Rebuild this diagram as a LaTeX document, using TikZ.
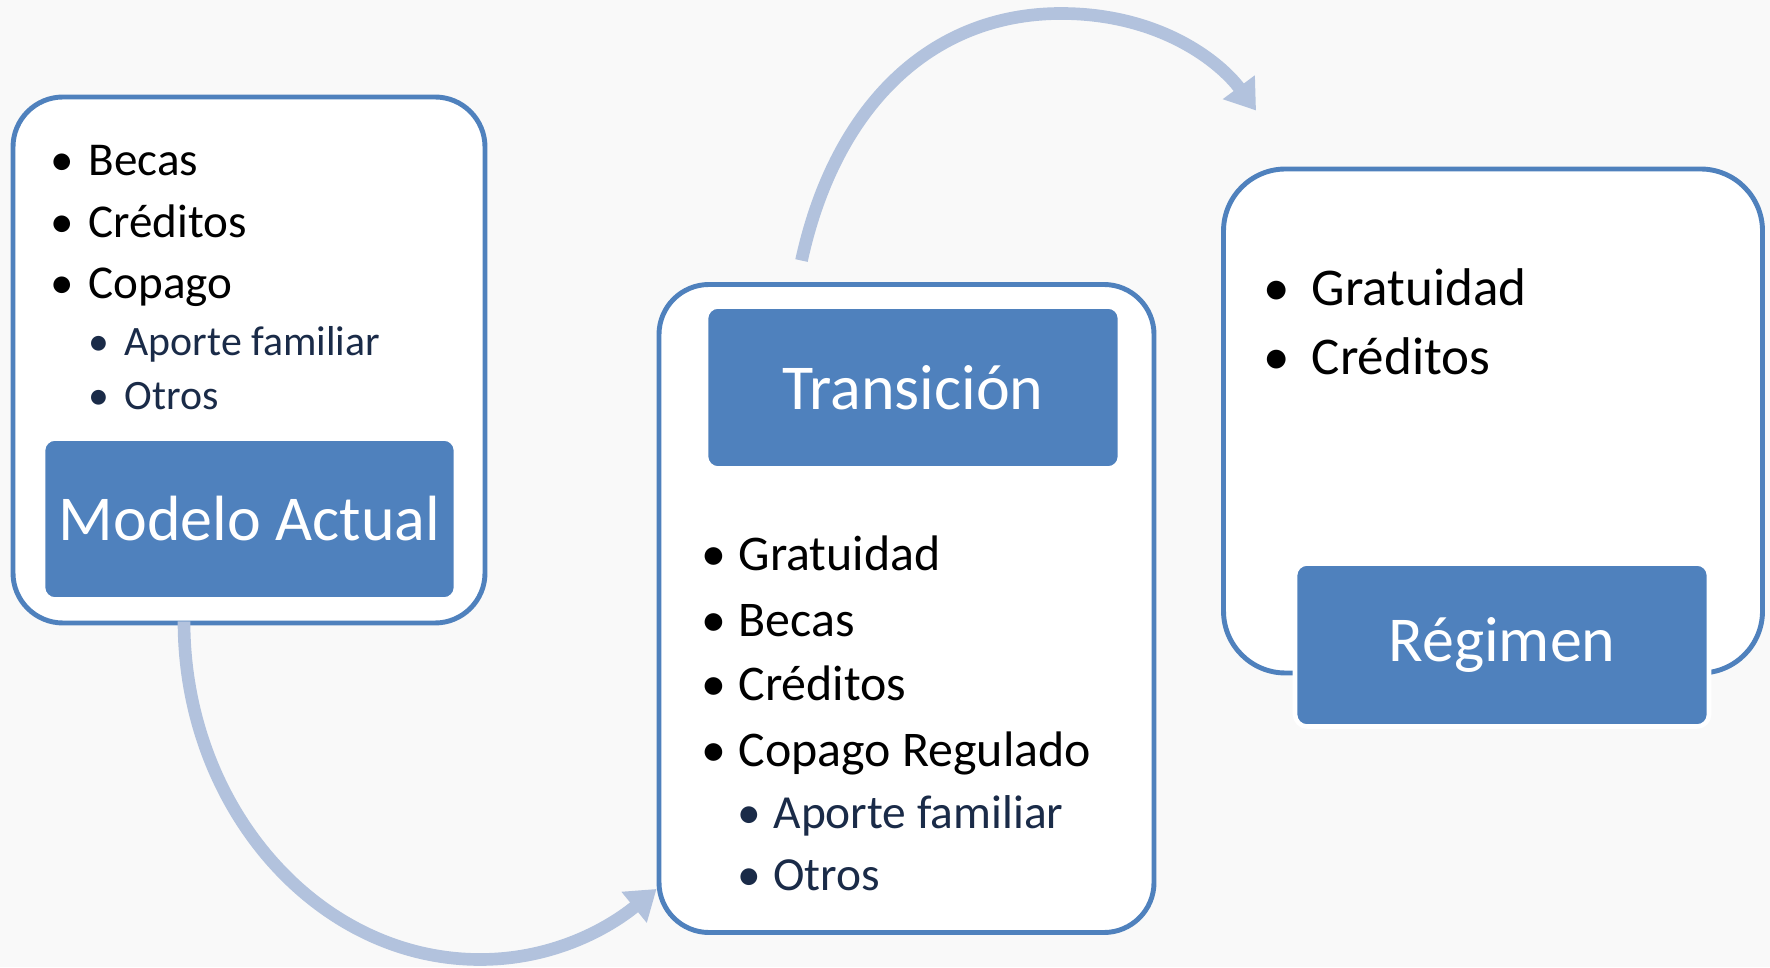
\documentclass[tikz,border=0pt]{standalone}
\usepackage{fontspec}
\setmainfont{Carlito}
\usepackage{tikz}
\usetikzlibrary{arrows.meta, positioning, calc}

\definecolor{boxblue}{HTML}{4F81BD}
\definecolor{flowblue}{HTML}{B2C2DD}
\definecolor{subnavy}{HTML}{1A2B48}
\definecolor{bggray}{HTML}{F9F9F9}

\begin{document}
\begin{tikzpicture}[line width=1.4pt]

  \tikzstyle{frame}=[draw=boxblue, fill=white, rounded corners=0.5cm]%
  \tikzstyle{title}=[draw=white, line width=1.3pt, fill=boxblue, text=white,
    rounded corners=0.12cm, font=\fontsize{18.2}{21}\selectfont]%
  \tikzstyle{flow}=[flowblue, line width=3.6pt,
    -{Triangle[width=0.38cm, length=0.29cm]}]%

  % background
  \fill[bggray] (0,0) rectangle (17.7,9.67);
  \useasboundingbox (0,0) rectangle (17.7,9.67);

  % Boxes
  \node[frame, minimum width=4.72cm, minimum height=5.26cm] (actualbox) at (2.49,6.07) {};
  \node[frame, minimum width=4.95cm, minimum height=6.48cm] (transbox) at (9.065,3.585) {};
  \node[frame, rounded corners=0.62cm, minimum width=5.39cm, minimum height=5.04cm]
    (regimenbox) at (14.93,5.46) {};

  % Titles
  \node[title, minimum width=4.13cm, minimum height=1.61cm] (actual) at (2.495,4.48) {Modelo Actual};
  \node[title, minimum width=4.14cm, minimum height=1.62cm] (trans) at (9.13,5.795) {Transición};
  \node[title, minimum width=4.14cm, minimum height=1.63cm] (regimen) at (15.02,3.22) {Régimen};

  %% Labels
  \begin{scope}[inner sep=0pt, anchor=base west]
    % modelo actual
    \begin{scope}[font=\fontsize{13.4}{16}\selectfont,
      execute at begin node={\llap{\textbullet\hspace{0.3em}}}]
      \node (a1) at (0.86,7.913) {Becas};
      \node (a2) at (0.86,7.292) {Créditos};
      \node (a3) at (0.86,6.683) {Copago};
    \end{scope}
    \begin{scope}[font=\fontsize{11.9}{14}\selectfont, text=subnavy,
      execute at begin node={\llap{\textbullet\hspace{0.37em}}}]
      \node (a4) at (1.222,6.118) {Aporte familiar};
      \node (a5) at (1.222,5.576) {Otros};
    \end{scope}
    % transicion
    \begin{scope}[font=\fontsize{14.2}{17}\selectfont,
      execute at begin node={\llap{\textbullet\hspace{0.25em}}}]
      \node (t1) at (7.361,3.962) {Gratuidad};
      \node (t2) at (7.361,3.307) {Becas};
      \node (t3) at (7.361,2.664) {Créditos};
      \node (t4) at (7.361,2.009) {Copago Regulado};
    \end{scope}
    \begin{scope}[font=\fontsize{13.5}{16}\selectfont, text=subnavy,
      execute at begin node={\llap{\textbullet\hspace{0.27em}}}]
      \node (t5) at (7.711,1.388) {Aporte familiar};
      \node (t6) at (7.711,0.768) {Otros};
    \end{scope}
    % regimen
    \begin{scope}[font=\fontsize{15.1}{18}\selectfont,
      execute at begin node={\llap{\textbullet\hspace{0.42em}}}]
      \node (r1) at (13.094,6.615) {Gratuidad};
      \node (r2) at (13.094,5.926) {Créditos};
    \end{scope}
  \end{scope}

  % Arrows
  \coordinate (low) at (4.8,0.075);
  \coordinate (high) at (10.61,9.535);
  \draw[flow] ([xshift=-0.65cm, yshift=0.04cm]actualbox.south)
    .. controls (1.84,1.6) and (3.17,0.075) .. (low)
    .. controls (5.55,0.075) and (6.1,0.4) .. ([yshift=0.46cm]transbox.south west);
  \draw[flow] ([xshift=-1.05cm, yshift=0.215cm]transbox.north)
    .. controls (8.35,8.6) and (9.3,9.535) .. (high)
    .. controls (11.6,9.535) and (12.2,9.05) .. ([xshift=0.35cm, yshift=0.56cm]regimenbox.north west);
\end{tikzpicture}
\end{document}
